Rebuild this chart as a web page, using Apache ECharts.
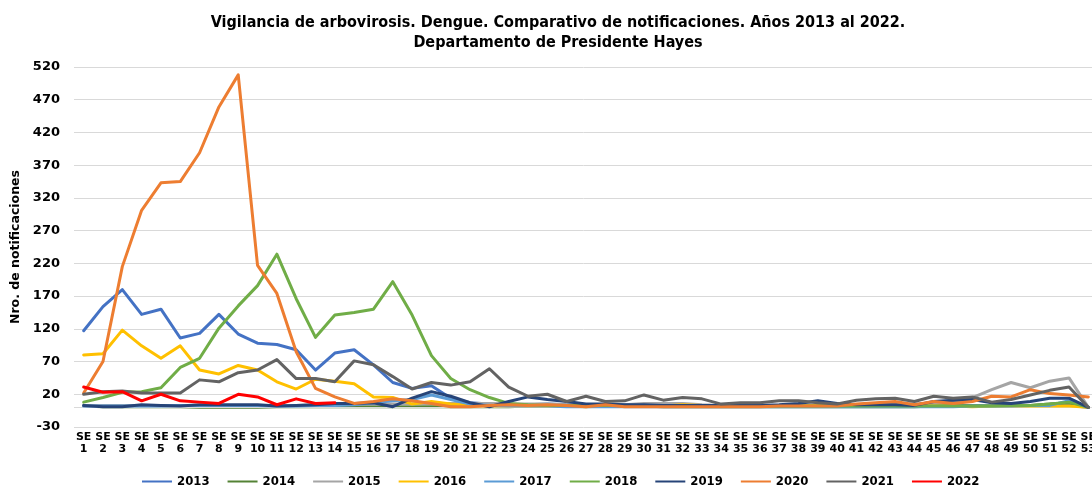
<!DOCTYPE html>
<html>
<head>
<meta charset="utf-8">
<script src="https://cdn.jsdelivr.net/npm/echarts@6/dist/echarts.min.js"></script>
<style>
  html, body { margin: 0; padding: 0; background: #fff; }
  #chart { width: 1092px; height: 487px; }
</style>
</head>
<body>
<div id="chart"></div>
<script>
// semanas epidemiologicas SE 1..53
var semanas = [];
for (var i = 1; i <= 53; i++) semanas.push('SE\n' + i);

var years = ['2013', '2014', '2015', '2016', '2017', '2018', '2019', '2020', '2021', '2022'];
var colors = ['#4472C4', '#548235', '#A5A5A5', '#FFC000', '#5B9BD5', '#70AD47', '#264478', '#ED7D31', '#636363', '#FF0000'];

var y2013 = [117,154,180,142,150,106,113,142,112,98,96,88,57,83,88,65,38,29,33,14,7,5,4,4,5,4,3,3,3,3,3,3,3,3,3,3,3,3,3,3,3,3,3,3,3,3,3,3,3,3,3,3,0];
var y2014 = [2,1,1,1,1,1,0,0,0,0,1,1,1,1,1,1,1,1,1,1,1,1,1,2,2,2,2,2,2,2,1,1,1,1,1,1,1,1,1,1,1,1,1,1,2,2,2,2,2,3,5,7,0];
var y2015 = [3,3,3,3,3,2,2,2,2,3,3,3,4,4,5,5,5,5,6,6,6,6,5,5,5,4,4,4,4,6,6,6,4,3,3,3,3,3,4,4,4,4,5,5,6,8,15,27,38,30,40,45,0];
var y2016 = [80,82,118,94,75,94,57,51,64,57,39,28,43,40,36,16,15,5,9,5,3,2,2,2,2,2,1,2,2,2,2,4,3,2,2,2,2,2,3,6,3,2,2,2,2,2,1,2,2,2,2,2,0];
var y2017 = [2,2,2,2,2,3,3,3,3,3,2,2,3,3,4,7,10,12,19,12,5,3,2,2,2,1,1,1,1,1,1,1,1,1,1,1,1,1,1,1,1,1,1,1,1,1,2,2,2,3,3,10,0];
var y2018 = [8,15,23,24,30,61,75,121,155,186,234,166,107,141,145,150,192,141,79,44,27,15,6,4,3,3,3,3,3,3,3,3,2,2,2,2,2,2,2,2,2,2,2,2,2,2,2,2,3,3,5,8,0];
var y2019 = [3,1,1,4,3,2,4,4,4,4,2,3,4,6,6,7,1,14,24,17,7,1,9,16,12,9,5,5,4,4,3,3,3,3,3,3,4,6,10,6,4,4,4,3,9,11,12,7,6,9,14,14,0];
var y2020 = [22,70,215,301,343,345,389,459,508,217,174,85,29,16,6,9,13,10,6,1,1,3,4,3,4,3,1,4,1,1,1,1,1,1,1,1,2,2,2,2,5,7,9,4,9,6,9,17,16,27,21,19,16];
var y2021 = [20,24,25,22,22,22,42,39,53,57,73,44,44,39,71,65,47,28,38,34,39,59,31,17,20,9,17,9,10,19,11,15,13,5,7,7,10,10,7,5,11,13,14,9,17,14,16,8,12,19,26,31,0];
var y2022 = [31,23,24,10,20,10,8,6,20,16,4,13,6,7];

var dataByYear = [y2013, y2014, y2015, y2016, y2017, y2018, y2019, y2020, y2021, y2022];

var chart = echarts.init(document.getElementById('chart'));

var series = [];
for (var k = 0; k < years.length; k++) {
    series.push({
        name: years[k],
        type: 'line',
        data: dataByYear[k],
        symbol: 'none',
        showSymbol: false,
        lineStyle: { width: 3, color: colors[k], join: 'round', cap: 'round' },
        itemStyle: { color: colors[k] },
        z: 2 + k
    });
}
// linea del cero
series[0].markLine = {
    silent: true,
    symbol: 'none',
    label: { show: false },
    lineStyle: { color: '#D9D9D9', width: 1, type: 'solid' },
    data: [{ yAxis: 0 }]
};

var option = {
    animation: false,
    title: {
        text: 'Vigilancia de arbovirosis. Dengue. Comparativo de notificaciones. Años 2013 al 2022.\nDepartamento de Presidente Hayes',
        left: 553,
        textAlign: 'center',
        top: 8,
        textStyle: {
            fontFamily: 'DejaVu Sans Condensed',
            fontWeight: 'bold',
            fontSize: 16,
            lineHeight: 20,
            color: '#000'
        }
    },
    legend: {
        data: years,
        top: 470,
        left: 137,
        icon: 'rect',
        itemWidth: 30,
        itemHeight: 2,
        itemGap: 18,
        textStyle: {
            fontFamily: 'DejaVu Sans Condensed',
            fontWeight: 'bold',
            fontSize: 13,
            color: '#000'
        }
    },
    grid: {
        left: 74,
        width: 1024,
        top: 67,
        bottom: 60,
        outerBoundsMode: 'none',
        containLabel: false
    },
    xAxis: {
        type: 'category',
        data: semanas,
        boundaryGap: true,
        axisLine: { show: false, onZero: false },
        axisTick: { show: false },
        axisLabel: {
            interval: 0,
            margin: 4,
            hideOverlap: false,
            fontFamily: 'DejaVu Sans',
            fontWeight: 'bold',
            fontSize: 11,
            lineHeight: 12,
            color: '#000'
        }
    },
    yAxis: {
        type: 'value',
        min: -30,
        max: 520,
        interval: 50,
        name: 'Nro. de notificaciones',
        nameLocation: 'middle',
        nameGap: 52,
        nameRotate: 90,
        nameTextStyle: {
            fontFamily: 'DejaVu Sans',
            fontWeight: 'bold',
            fontSize: 12.5,
            color: '#000'
        },
        axisLine: { show: false },
        axisTick: { show: false },
        axisLabel: {
            margin: 14,
            fontFamily: 'DejaVu Sans',
            fontWeight: 'bold',
            fontSize: 13,
            color: '#000'
        },
        splitLine: { lineStyle: { color: '#D9D9D9', width: 1 } }
    },
    series: series
};

chart.setOption(option);
</script>
</body>
</html>
